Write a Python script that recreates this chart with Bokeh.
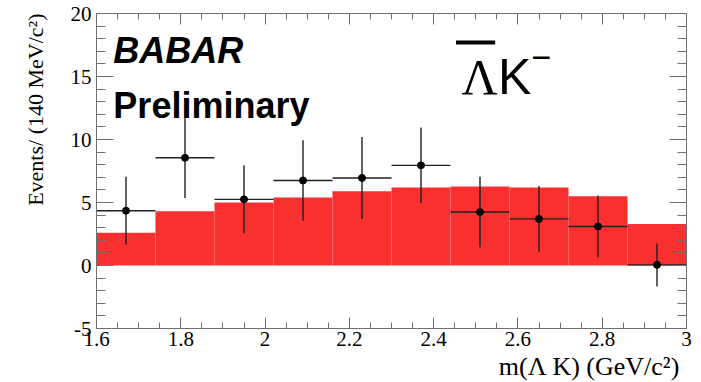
from bokeh.plotting import figure
from bokeh.models import Range1d, LinearAxis, FixedTicker, Label, BoxAnnotation, Title
from bokeh.embed import file_html
from bokeh.resources import INLINE

# ---- data ----
bin_edges = [1.60, 1.74, 1.88, 2.02, 2.16, 2.30, 2.44, 2.58, 2.72, 2.86, 3.00]
fit_counts = [2.6, 4.3, 5.0, 5.4, 5.9, 6.2, 6.27, 6.2, 5.5, 3.3]
data_mass = [1.67, 1.81, 1.95, 2.09, 2.23, 2.37, 2.51, 2.65, 2.79, 2.93]
data_events = [4.35, 8.55, 5.25, 6.75, 6.95, 7.95, 4.25, 3.7, 3.1, 0.05]
data_err = [2.7, 3.2, 2.7, 3.2, 3.25, 3.0, 2.8, 2.6, 2.45, 1.7]

x_ticks = [1.6, 1.8, 2.0, 2.2, 2.4, 2.6, 2.8, 3.0]
x_tick_labels = ["1.6", "1.8", "2", "2.2", "2.4", "2.6", "2.8", "3"]
y_ticks = [-5, 0, 5, 10, 15, 20]
y_tick_labels = ["-5", "0", "5", "10", "15", "20"]
x_minor = [round(1.6 + 0.05 * i, 2) for i in range(29)]
y_minor = list(range(-5, 21))

x_title = "m(\u039b K)  (GeV/c\u00b2)"
y_title = "Events/ (140 MeV/c\u00b2)"

SERIF = "Liberation Serif"
SANS = "Liberation Sans"
TICK_COLOR = "#707070"

p = figure(width=701, height=382, x_range=Range1d(1.6, 3.0), y_range=Range1d(-5, 20),
           output_backend="svg", toolbar_location=None,
           min_border_left=96, min_border_right=15, min_border_top=13, min_border_bottom=54)
p.grid.visible = False
p.outline_line_color = TICK_COLOR
p.background_fill_color = "white"
p.border_fill_color = "white"

# histogram (fit)
p.quad(left=bin_edges[:-1], right=bin_edges[1:], bottom=0, top=fit_counts,
       fill_color="#f83030", line_color=None)

# data error bars
lo = [v - e for v, e in zip(data_events, data_err)]
hi = [v + e for v, e in zip(data_events, data_err)]
p.segment(x0=data_mass, y0=lo, x1=data_mass, y1=hi, line_color="#202020", line_width=1.4)
p.segment(x0=bin_edges[:-1], y0=data_events, x1=bin_edges[1:], y1=data_events,
          line_color="#202020", line_width=1.4)
p.scatter(data_mass, data_events, size=7, color="black")


def style_axis(ax, is_x, show_labels):
    ticks = x_ticks if is_x else y_ticks
    ax.ticker = FixedTicker(ticks=ticks, minor_ticks=x_minor if is_x else y_minor)
    ax.axis_line_color = TICK_COLOR
    ax.major_tick_line_color = TICK_COLOR
    ax.minor_tick_line_color = TICK_COLOR
    ax.major_tick_out = 0
    ax.minor_tick_out = 0
    ax.major_tick_in = 11 if is_x else 17
    ax.minor_tick_in = 6 if is_x else 9
    if show_labels:
        labels = x_tick_labels if is_x else y_tick_labels
        ax.major_label_overrides = {t: l for t, l in zip(ticks, labels)}
        ax.major_label_text_font = SERIF
        ax.major_label_text_font_size = "21px"
        ax.major_label_text_color = "black"
    else:
        ax.major_label_overrides = {t: "" for t in ticks}
        ax.major_label_standoff = 0


xa = p.xaxis[0]
ya = p.yaxis[0]
style_axis(xa, True, True)
style_axis(ya, False, True)
xa.major_label_standoff = 3
ya.major_label_standoff = 5

top_ax = LinearAxis()
right_ax = LinearAxis()
style_axis(top_ax, True, False)
style_axis(right_ax, False, False)
p.add_layout(top_ax, "above")
p.add_layout(right_ax, "right")

# axis titles, right/top aligned like ROOT
p.add_layout(Title(text=x_title, align="right", text_font=SERIF, text_font_size="26px",
                   text_font_style="normal", text_color="black", standoff=2, offset=0),
             "below")
p.add_layout(Title(text=y_title, align="right", text_font=SERIF, text_font_size="22px",
                   text_font_style="normal", text_color="black", standoff=40, offset=0),
             "left")

# annotations
p.add_layout(Label(x=1.64, y=15.45, text="BABAR", text_font=SANS, text_font_size="36px",
                   text_font_style="bold italic", text_color="black"))
p.add_layout(Label(x=1.64, y=11.1, text="Preliminary", text_font=SANS, text_font_size="36px",
                   text_font_style="bold", text_color="black"))
p.add_layout(Label(x=2.466, y=12.7, text="\u039b", text_font=SERIF, text_font_size="50px",
                   text_color="black"))
p.add_layout(Label(x=2.553, y=12.7, text="K", text_font=SANS, text_font_size="50px",
                   text_color="black"))
p.add_layout(Label(x=2.632, y=16.5, text="\u2212", text_font=SANS, text_font_size="34px",
                   text_baseline="middle", text_color="black"))
p.add_layout(BoxAnnotation(left=2.453, right=2.546, bottom=17.54, top=17.86,
                           fill_color="black", fill_alpha=1.0, line_color=None))

open("out.html", "w").write(file_html(p, INLINE))
